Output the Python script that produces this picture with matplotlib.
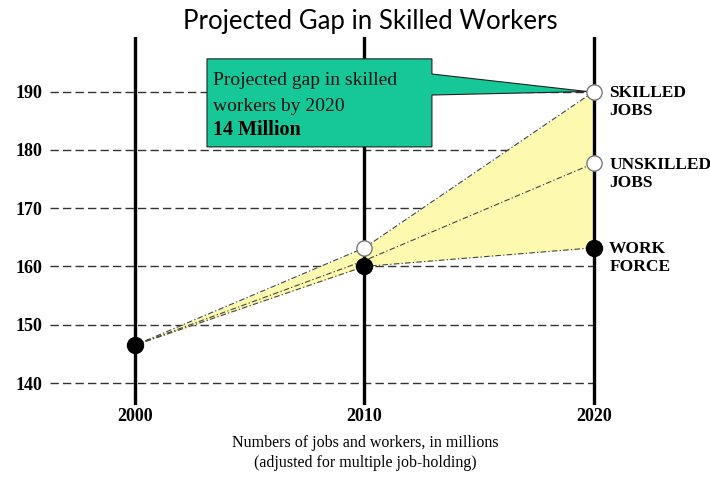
import matplotlib.pyplot as plt
from matplotlib.patches import Polygon

years = [2000, 2010, 2020]
skilled = [146.5, 163.2, 190.0]
unskilled = [146.5, 161.0, 177.7]
workforce = [146.5, 160.0, 163.2]
y_ticks = [140, 150, 160, 170, 180, 190]
series_labels = ['SKILLED\nJOBS', 'UNSKILLED\nJOBS', 'WORK\nFORCE']

serif = 'Liberation Serif'
green = '#16c898'

fig = plt.figure(figsize=(7.1, 4.8), dpi=100)
ax = fig.add_axes([50 / 710, 75 / 480, 650 / 710, 368 / 480])
ax.set_xlim(1996.30, 2024.62)
ax.set_ylim(136.23, 199.35)
for s in ax.spines.values():
    s.set_visible(False)

# horizontal dashed grid, ending at the last year line
ax.hlines(y_ticks, ax.get_xlim()[0], years[-1], colors='#333333', lw=1,
          linestyles=(0, (6, 3)), zorder=1)
for yr in years:
    ax.axvline(yr, color='black', lw=2.4, zorder=2)

# shaded gap
ax.fill_between(years, workforce, skilled, color='#fdfab0', lw=0, zorder=1.5)
dashdot = (0, (5, 2, 1.2, 2))
for vals in (skilled, unskilled, workforce):
    ax.plot(years, vals, color='#444444', lw=0.8, ls=dashdot, zorder=3)

# callout box pointing at the 2020 skilled-jobs point
bx0, bx1, by0, by1 = 2003.14, 2012.94, 180.5, 195.6
callout = Polygon([(bx0, by1), (bx1, by1), (bx1, 193.0),
                   (years[-1] - 0.3, skilled[-1]), (bx1, 189.4),
                   (bx1, by0), (bx0, by0)],
                  closed=True, fc=green, ec='#222222', lw=0.8, zorder=4)
ax.add_patch(callout)
ax.text(bx0 + 0.25, 191.2, 'Projected gap in skilled', family=serif,
        fontsize=14, va='baseline', zorder=5, color='#111111')
ax.text(bx0 + 0.25, 186.7, 'workers by 2020', family=serif,
        fontsize=14, va='baseline', zorder=5, color='#111111')
ax.text(bx0 + 0.25, 182.6, '14 Million', family=serif, fontsize=14.5,
        fontweight='bold', va='baseline', zorder=5)

# markers
ax.plot(years, workforce, ls='none', marker='o', ms=11.5, mfc='black',
        mec='black', zorder=6)
ax.plot(years[1:], skilled[1:], ls='none', marker='o', ms=11, mfc='white',
        mec='#777777', mew=1, zorder=6)
ax.plot(years[2:], unskilled[2:], ls='none', marker='o', ms=11, mfc='white',
        mec='#777777', mew=1, zorder=6)

for vals, lab in zip((skilled, unskilled, workforce), series_labels):
    ax.annotate(lab, (years[-1], vals[-1]), xytext=(11, -7.5),
                textcoords='offset points', va='center', ha='left',
                family=serif, fontsize=12.5, fontweight='bold',
                linespacing=1.15, annotation_clip=False)

ax.set_yticks(y_ticks)
ax.set_yticklabels([str(t) for t in y_ticks], family=serif,
                   fontsize=13, fontweight='bold')
ax.set_xticks(years)
ax.set_xticklabels([str(y) for y in years], family=serif,
                   fontsize=13, fontweight='bold')
ax.tick_params(axis='y', length=0, pad=5.5)
ax.tick_params(axis='x', length=0, pad=2.5)

fig.text(365 / 710, 1 - 453 / 480,
         'Numbers of jobs and workers, in millions\n(adjusted for multiple job-holding)',
         ha='center', va='center', family=serif, fontsize=11.5, linespacing=1.3)
fig.text(370 / 710, 1 - 22 / 480, 'Projected Gap in Skilled Workers',
         ha='center', va='center', family='Lato', fontsize=18.5)

fig.savefig('out.png', dpi=100)
